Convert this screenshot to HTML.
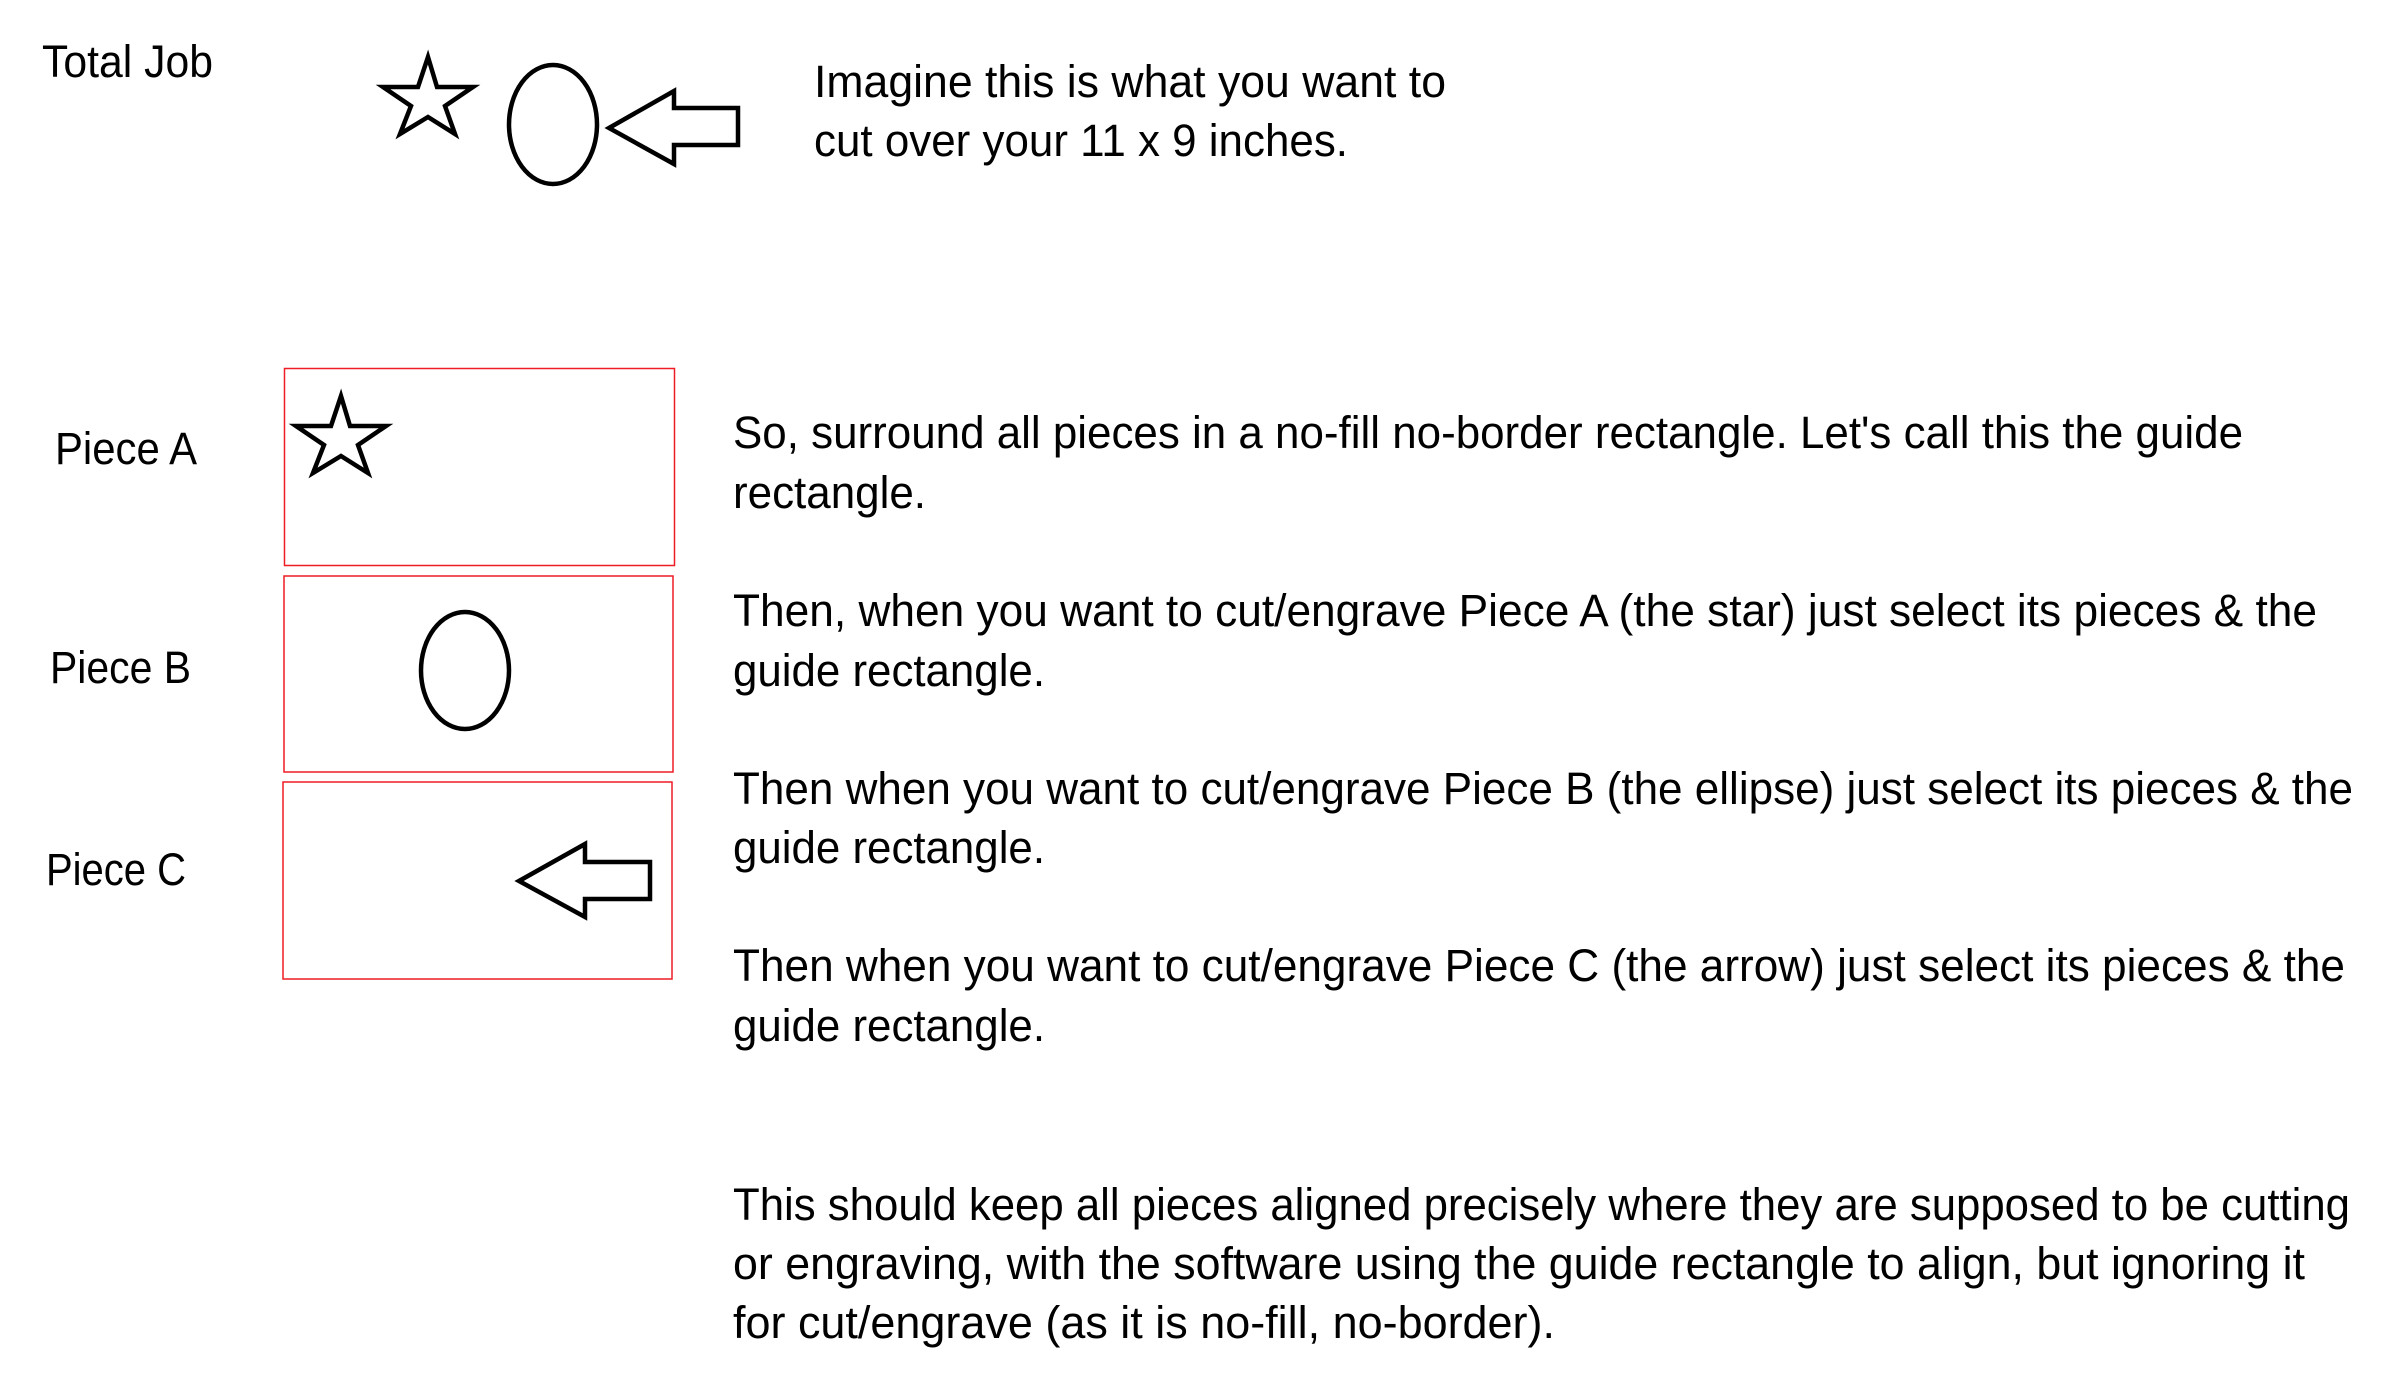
<!DOCTYPE html>
<html><head><meta charset="utf-8"><style>
html,body{margin:0;padding:0;background:#fff;}
svg{display:block;}
text{font-family:"Liberation Sans Narrow","Liberation Sans",sans-serif;font-size:45px;fill:#000;}
</style></head><body>
<svg width="2402" height="1384" viewBox="0 0 2402 1384" xmlns="http://www.w3.org/2000/svg">
<g fill="none" stroke="#000" stroke-width="4.5" stroke-linejoin="miter">
<polygon points="428,57 437,87 473,87 445,106 455,134 428,117 400,134 411,106 383,87 418,87"/>
<ellipse cx="553" cy="124.5" rx="44" ry="59.5"/>
<polygon points="609,128 674,91 674,108 738,108 738,145 674,145 674,164"/>
<polygon points="341,396 350,426 386,426 358,445 368,473 341,456 313,473 324,445 296,426 331,426"/>
<ellipse cx="465" cy="670.5" rx="44" ry="58.5"/>
<polygon points="519,881 585,844 585,862 650,862 650,899 585,899 585,917"/>
</g>
<g fill="none" stroke="#ee1c24" stroke-width="1.5">
<rect x="284.5" y="368.5" width="390" height="197"/>
<rect x="284" y="576" width="389" height="196"/>
<rect x="283" y="782" width="389" height="197"/>
</g>
<text x="42" y="77" textLength="171" lengthAdjust="spacingAndGlyphs">Total Job</text>
<text x="55" y="464" textLength="142" lengthAdjust="spacingAndGlyphs">Piece A</text>
<text x="50" y="683" textLength="141" lengthAdjust="spacingAndGlyphs">Piece B</text>
<text x="46" y="885" textLength="140" lengthAdjust="spacingAndGlyphs">Piece C</text>
<text x="814" y="97" textLength="632" lengthAdjust="spacingAndGlyphs">Imagine this is what you want to</text>
<text x="814" y="156" textLength="534" lengthAdjust="spacingAndGlyphs">cut over your 11 x 9 inches.</text>
<text x="733" y="448" textLength="1510" lengthAdjust="spacingAndGlyphs">So, surround all pieces in a no-fill no-border rectangle. Let's call this the guide</text>
<text x="733" y="508" textLength="193" lengthAdjust="spacingAndGlyphs">rectangle.</text>
<text x="733" y="626" textLength="1584" lengthAdjust="spacingAndGlyphs">Then, when you want to cut/engrave Piece A (the star) just select its pieces &amp; the</text>
<text x="733" y="686" textLength="312" lengthAdjust="spacingAndGlyphs">guide rectangle.</text>
<text x="733" y="804" textLength="1620" lengthAdjust="spacingAndGlyphs">Then when you want to cut/engrave Piece B (the ellipse) just select its pieces &amp; the</text>
<text x="733" y="863" textLength="312" lengthAdjust="spacingAndGlyphs">guide rectangle.</text>
<text x="733" y="981" textLength="1612" lengthAdjust="spacingAndGlyphs">Then when you want to cut/engrave Piece C (the arrow) just select its pieces &amp; the</text>
<text x="733" y="1041" textLength="312" lengthAdjust="spacingAndGlyphs">guide rectangle.</text>
<text x="733" y="1220" textLength="1617" lengthAdjust="spacingAndGlyphs">This should keep all pieces aligned precisely where they are supposed to be cutting</text>
<text x="733" y="1279" textLength="1572" lengthAdjust="spacingAndGlyphs">or engraving, with the software using the guide rectangle to align, but ignoring it</text>
<text x="733" y="1338" textLength="822" lengthAdjust="spacingAndGlyphs">for cut/engrave (as it is no-fill, no-border).</text>
</svg>
</body></html>
